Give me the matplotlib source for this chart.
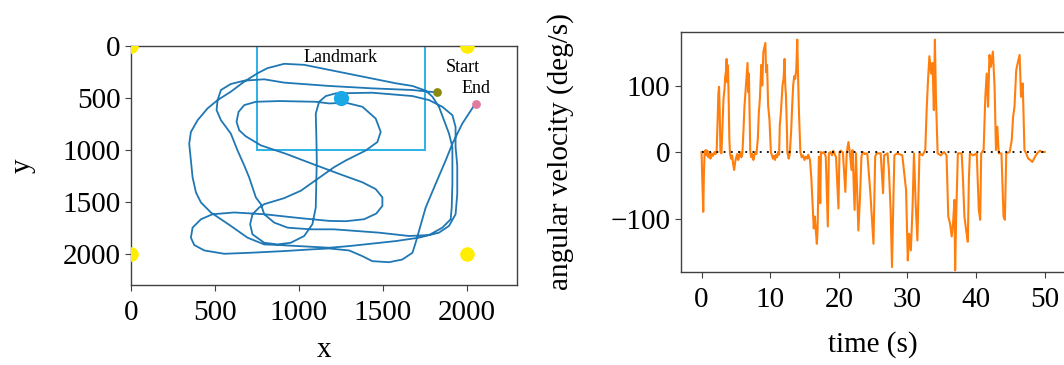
import numpy as np
import matplotlib.pyplot as plt
from matplotlib.patches import Rectangle

plt.rcParams['font.family'] = ['Liberation Serif', 'DejaVu Serif']

# ------------------------------
# robot trajectory (mm), start -> end
# ------------------------------
traj_x = [1819, 1776, 1677, 1438, 1181, 913, 794, 675, 595, 536, 516, 510, 536, 595, 635,
          675, 704, 744, 774, 794, 853, 933, 1071, 1210, 1478, 1657, 1776, 1855, 1905, 1911,
          1915, 1915, 1915, 1895, 1865, 1835, 1796, 1756, 1677, 1577, 1379, 1181, 1032, 913,
          813, 754, 675, 595, 516, 456, 397, 357, 347, 357, 367, 387, 417, 476, 595, 694,
          794, 883, 1181, 1300, 1577, 1716, 1835, 1895, 1934, 1944, 1944, 1934, 1934, 1915,
          1855, 1776, 1677, 1438, 1220, 1161, 1121, 1101, 1105, 1107, 1101, 1081, 1032, 952,
          873, 794, 724, 710, 724, 764, 794, 913, 1012, 1111, 1210, 1280, 1399, 1468, 1488,
          1458, 1379, 1280, 1181, 1101, 883, 744, 675, 641, 629, 645, 684, 774, 923, 1081,
          1240, 1379, 1458, 1498, 1498, 1462, 1389, 1280, 1181, 1012, 794, 615, 486, 417,
          367, 357, 377, 437, 556, 714, 913, 1071, 1181, 1300, 1379, 1438, 1538, 1617, 1677,
          1696, 1716, 1756, 1815, 1875, 1915, 1974, 2050]
traj_y = [448, 442, 426, 410, 387, 355, 323, 336, 368, 426, 523, 619, 716, 845, 1007,
          1152, 1265, 1458, 1523, 1620, 1700, 1749, 1765, 1765, 1797, 1829, 1820, 1749, 1668, 1555,
          1329, 1103, 974, 845, 716, 587, 490, 432, 387, 361, 297, 232, 184, 174,
          216, 265, 345, 442, 523, 603, 716, 829, 942, 1103, 1265, 1410, 1507, 1603, 1732, 1845,
          1910, 1916, 1942, 1926, 1878, 1845, 1797, 1732, 1620, 1426, 1152, 974, 781, 668,
          587, 523, 484, 452, 458, 484, 539, 652, 910, 1103, 1555, 1716, 1829, 1894,
          1910, 1894, 1813, 1716, 1620, 1555, 1523, 1465, 1394, 1281, 1168, 1103, 1007, 926, 829,
          700, 587, 548, 555, 539, 532, 539, 571, 636, 732, 813, 871, 958, 1039, 1136,
          1232, 1313, 1378, 1458, 1539, 1613, 1668, 1687, 1684, 1658, 1620, 1603, 1620, 1668,
          1749, 1845, 1916, 1968, 2000, 1990, 1974, 1958, 1949, 1968, 2023, 2071, 2081, 2055, 1990,
          1894, 1781, 1555, 1329, 1103, 942, 749, 561]

corner_x = [0, 2000, 0, 2000]
corner_y = [0, 0, 2000, 2000]
landmark_xy = (1250, 500)
start_xy = (1823, 444)
end_xy = (2054, 563)
box_x0, box_y0, box_w, box_h = 750, 0, 1000, 1000

# ------------------------------
# gyro angular velocity (deg/s)
# ------------------------------
time_s = [0.00, 0.10, 0.25, 0.35, 0.45, 0.6, 0.7, 0.85, 1.0, 1.15, 1.3, 1.45, 1.6, 1.75, 1.9,
          2.05, 2.2, 2.35, 2.45, 2.55, 2.65, 2.75, 2.9, 3.05, 3.2, 3.35, 3.45, 3.55, 3.65, 3.75,
          3.85, 3.95, 4.05, 4.15, 4.3, 4.45, 4.6, 4.75, 4.9, 5.05, 5.2, 5.35, 5.5, 5.65, 5.8,
          5.95, 6.1, 6.25, 6.4, 6.55, 6.7, 6.8, 6.9, 7.0, 7.1, 7.25, 7.4, 7.55, 7.7, 7.85,
          8.0, 8.2, 8.35, 8.5, 8.7, 8.85, 9.0, 9.3, 9.4, 9.55, 9.7, 9.9, 10.1, 10.25, 10.4,
          10.55, 10.7, 10.85, 11.0, 11.15, 11.3, 11.4, 11.55, 11.8, 11.95, 12.1, 12.2, 12.3, 12.45, 12.5,
          12.7, 12.85, 13.05, 13.2, 13.35, 13.5, 13.65, 13.8, 13.95, 14.05, 14.2, 14.4, 14.6, 14.8, 15.0,
          15.2, 15.4, 15.55, 15.8, 16.0, 16.15, 16.35, 16.5, 16.8, 16.9, 17.0, 17.1, 17.3, 17.4, 17.55,
          17.85, 18.1, 18.4, 18.55, 18.8, 19.0, 19.2, 19.4, 19.6, 19.95, 20.1, 20.3, 20.6, 20.95, 21.15,
          21.4, 21.6, 21.85, 22.0, 22.3, 22.5, 22.85, 23.05, 23.3, 23.5, 23.8, 24.15, 24.6, 25.05, 25.3,
          25.5, 26.1, 26.45, 26.6, 27.1, 27.3, 27.55, 27.75, 27.9, 28.1, 28.5, 29.25, 29.8, 30.05, 30.25,
          30.5, 30.75, 30.95, 31.2, 31.45, 31.75, 32.2, 32.6, 32.8, 33.0, 33.2, 33.45, 33.65, 33.85, 34.0,
          34.15, 34.4, 34.85, 35.35, 35.7, 35.95, 36.2, 36.45, 36.65, 36.85, 36.95, 37.1, 37.35, 37.9, 38.1,
          38.3, 38.55, 38.8, 38.95, 39.1, 39.6, 40.1, 40.4, 40.6, 40.75, 41.1, 41.35, 41.55, 41.75, 41.95,
          42.15, 42.45, 42.7, 42.9, 43.1, 43.3, 43.7, 44.0, 44.2, 44.4, 44.9, 45.2, 45.4, 45.6, 45.85,
          46.05, 46.35, 46.55, 46.8, 47.05, 47.3, 47.6, 47.9, 48.2, 48.6, 48.9, 49.3, 49.6, 50.0]
omega = [0, -40, -90, -30, 0, 3, -5, 2, -8, -3, -10, -2, -6, -4, 0,
         -3, 2, 50, 88, 98, 60, 0, -2, 40, 80, 95, 114, 120, 140, 105,
         130, 80, 20, -3, -10, -5, -18, -27, -15, -8, -3, -12, -5, 0, -8,
         -2, 30, 68, 90, 110, 134, 90, 118, 60, 0, -8, -3, -12, -5, 0,
         -3, 20, 60, 80, 131, 100, 150, 164, 120, 131, 70, 48, 0, -5, -10,
         -6, -12, -4, -8, 0, -4, 40, 58, 100, 110, 140, 100, 85, 30, 0,
         -10, -3, 30, 68, 100, 114, 110, 124, 169, 120, 58, 0, -8, -5, -12,
         -7, -10, -4, -12, -40, -72, -115, -97, -138, -120, -60, -7, -77, 0, -2,
         0, -7, -112, -2, 0, -5, 2, -3, -8, -85, 0, 2, -1, -60, -2,
         15, 0, -27, 3, -87, -2, -118, -77, -7, 0, -3, -2, -62, -138, -7,
         -2, -2, -62, -5, -2, -27, -87, -173, -97, -5, -2, -5, -57, -163, -123,
         -148, -82, -2, -77, -133, -2, -5, 3, 63, 108, 144, 118, 134, 63, 169,
         83, -2, -5, 0, -5, -97, -107, -127, -107, -72, -178, -97, -2, -2, -42,
         -97, -117, -135, -42, -2, -5, -2, -87, -102, -2, 3, 83, 118, 68, 146,
         128, 151, 98, 3, 38, -2, -2, -97, -102, -2, 0, 18, 53, 68, 123,
         133, 146, 83, 103, 3, -2, -10, -12, -15, -7, -2, 2, 0, 0]

fig = plt.figure(figsize=(10.64, 3.65), dpi=100)
fs = 21
spine_col = '0.25'

# ------------------------------
# left: trajectory in the arena
# ------------------------------
ax1 = fig.add_axes([0.1231, 0.2192, 0.3628, 0.6556])
ax1.add_patch(Rectangle((box_x0, box_y0), box_w, box_h, fill=False,
                        edgecolor='#29b3e6', linewidth=1.4, zorder=2))
ax1.plot(traj_x, traj_y, color='#1f77b4', linewidth=1.3, zorder=3)
ax1.scatter(corner_x, corner_y, s=110, color='#ffee00', zorder=4, linewidths=0)
ax1.scatter([landmark_xy[0]], [landmark_xy[1]], s=120, color='#1aa9e6', zorder=5, linewidths=0)
ax1.scatter([start_xy[0]], [start_xy[1]], s=40, color='#8a8a10', zorder=5, linewidths=0)
ax1.scatter([end_xy[0]], [end_xy[1]], s=40, color='#e37aa0', zorder=5, linewidths=0)
ax1.text(1250, 110, 'Landmark', ha='center', va='center', fontsize=13)
ax1.text(1975, 205, 'Start', ha='center', va='center', fontsize=13)
ax1.text(2053, 415, 'End', ha='center', va='center', fontsize=13)
ax1.set_xlim(0, 2300)
ax1.set_ylim(2300, 0)
ax1.set_xticks([0, 500, 1000, 1500, 2000])
ax1.set_yticks([0, 500, 1000, 1500, 2000])
ax1.set_xlabel('x', fontsize=fs, labelpad=8)
ax1.set_ylabel('y', fontsize=fs, labelpad=19)

# ------------------------------
# right: angular velocity over time
# ------------------------------
ax2 = fig.add_axes([0.640, 0.2556, 0.3612, 0.6559])
ax2.plot([0, 50], [0, 0], color='black', linestyle=(0, (1, 3)), linewidth=1.3, zorder=3)
ax2.plot(time_s, omega, color='#ff7f0e', linewidth=1.5, zorder=2)
ax2.set_xlim(-3, 53)
ax2.set_ylim(-180, 180)
ax2.set_xticks([0, 10, 20, 30, 40, 50])
ax2.set_yticks([-100, 0, 100])
ax2.set_xlabel('time (s)', fontsize=fs, labelpad=13)
ax2.set_ylabel('angular velocity (deg/s)', fontsize=fs, labelpad=26)

for ax in (ax1, ax2):
    for sp in ax.spines.values():
        sp.set_color(spine_col)
        sp.set_linewidth(1.0)
    ax.tick_params(labelsize=fs, color=spine_col, length=4)
    ax.tick_params(axis='x', pad=7)

fig.savefig('out.png', dpi=100)
